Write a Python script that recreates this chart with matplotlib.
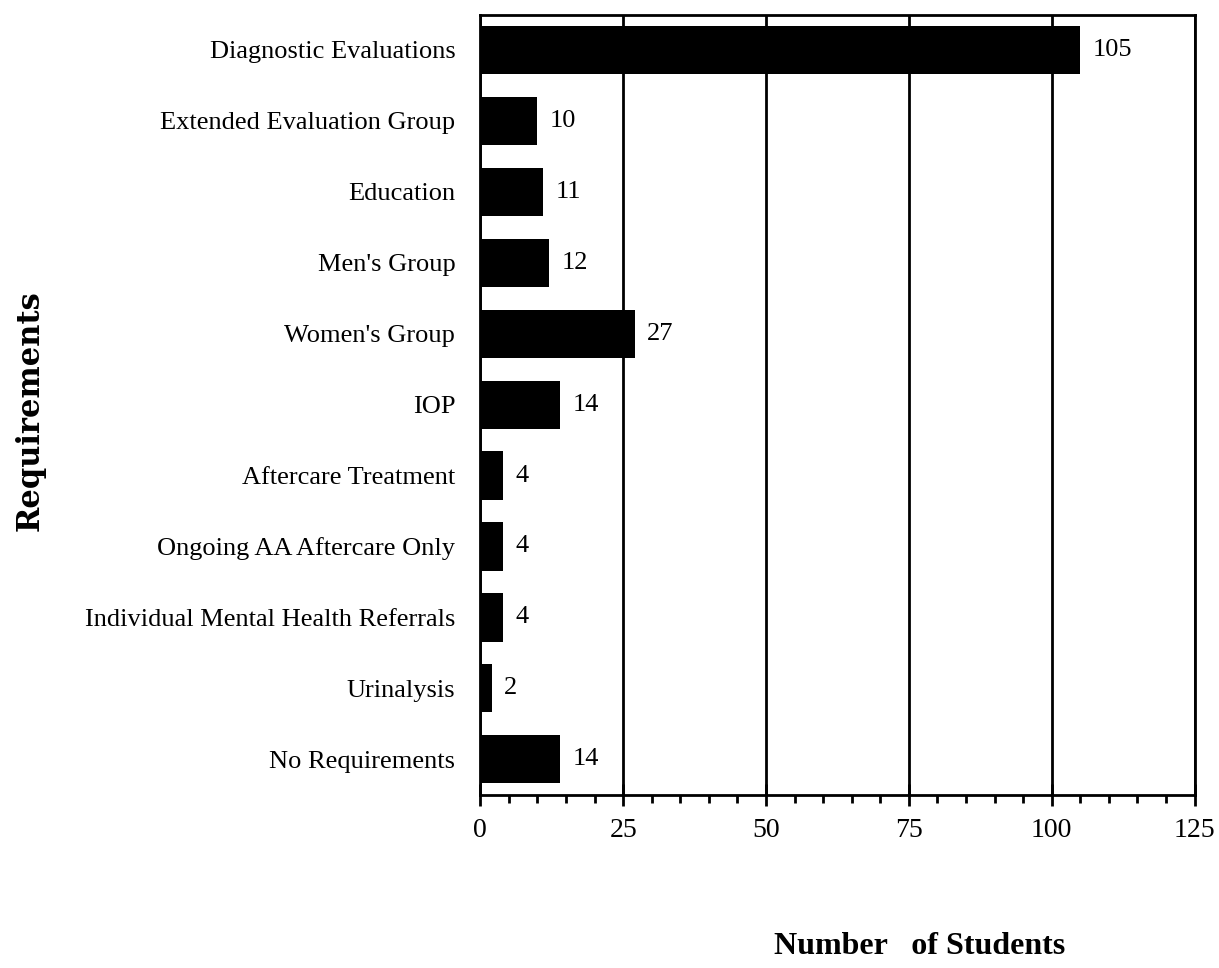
import numpy as np
import matplotlib.pyplot as plt
from matplotlib.ticker import MultipleLocator

# data
requirements = ["Diagnostic Evaluations", "Extended Evaluation Group", "Education",
                "Men's Group", "Women's Group", "IOP", "Aftercare Treatment",
                "Ongoing AA Aftercare Only", "Individual Mental Health Referrals",
                "Urinalysis", "No Requirements"]
students = [105, 10, 11, 12, 27, 14, 4, 4, 4, 2, 14]
x_ticks = [0, 25, 50, 75, 100, 125]

plt.rcParams['font.family'] = ['Liberation Serif', 'DejaVu Serif']

fig = plt.figure(figsize=(12.19, 9.68), dpi=100)
ax = fig.add_axes([0.394, 0.179, 0.586, 0.806])

y = np.arange(len(requirements))
ax.barh(y, students, height=0.68, color='black', zorder=3)

# value labels at bar ends
for yi, v in zip(y, students):
    ax.text(v + 2.2, yi, str(v), va='center', ha='left', fontsize=19)

ax.set_xlim(0, 125)
ax.set_ylim(len(requirements) - 0.5, -0.5)
ax.set_yticks(y)
ax.set_yticklabels(requirements, fontsize=19)
ax.set_xticks(x_ticks)
ax.set_xticklabels([str(t) for t in x_ticks], fontsize=20)
ax.xaxis.set_minor_locator(MultipleLocator(5))
ax.tick_params(axis='y', length=0, pad=18)
ax.tick_params(axis='x', which='major', direction='inout', length=16, width=2, pad=9)
ax.tick_params(axis='x', which='minor', direction='out', length=6, width=2)

ax.grid(axis='x', color='black', linewidth=2, zorder=1)
for s in ax.spines.values():
    s.set_linewidth(2)

fig.text(0.025, 0.576, "Requirements", rotation=90, ha='center', va='center',
         fontsize=22, fontweight='bold', family=['DejaVu Serif'])
fig.text(0.754, 0.022, "Number   of Students", ha='center', va='center',
         fontsize=23, fontweight='bold')

fig.savefig("out.png", dpi=100)
